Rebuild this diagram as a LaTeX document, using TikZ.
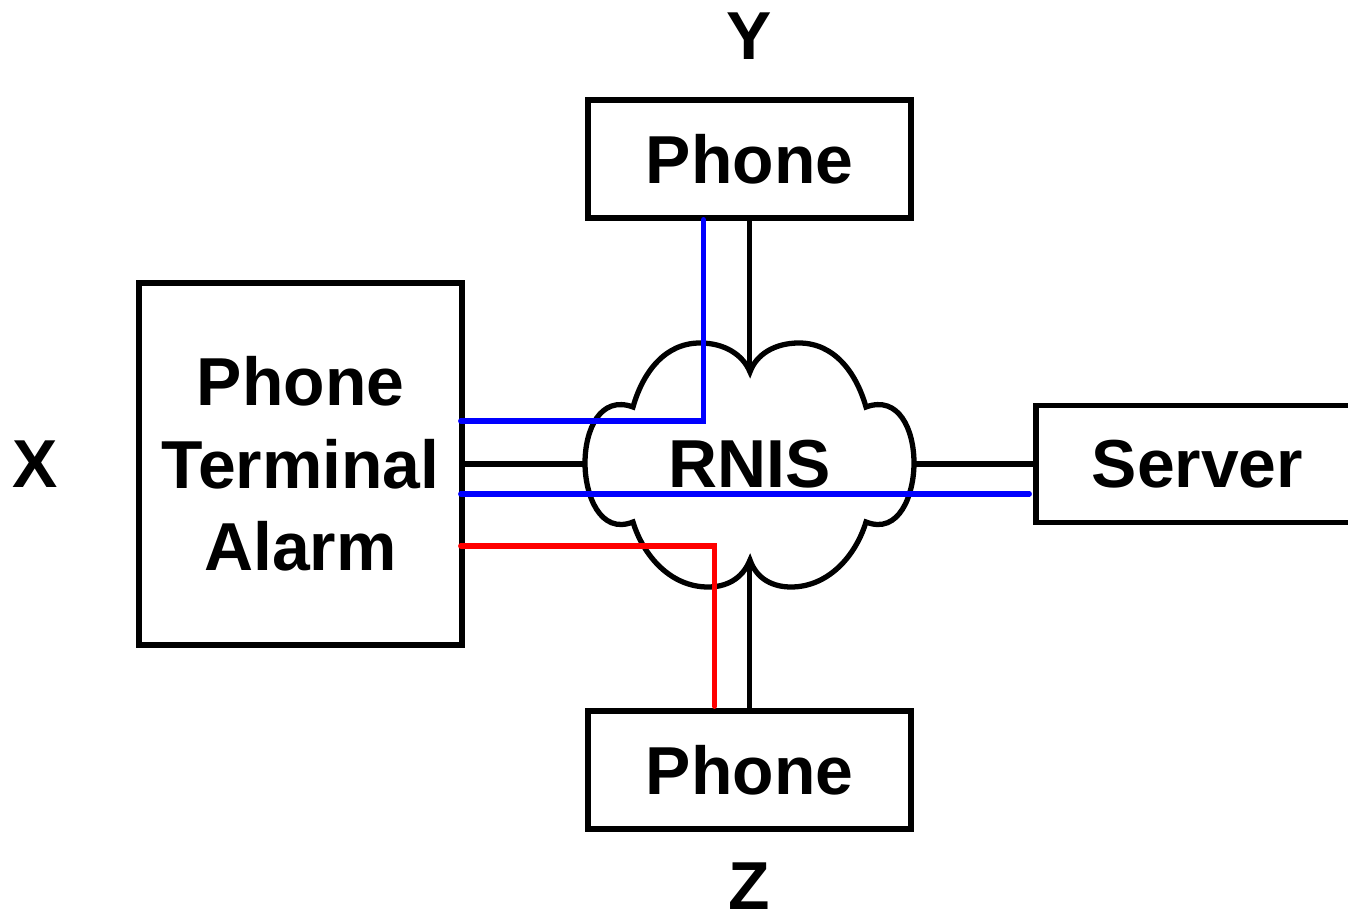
\documentclass[tikz,border=0pt]{standalone}
\usepackage{fontspec}
\setmainfont{Liberation Sans}
\usetikzlibrary{calc}

\definecolor{linkblue}{RGB}{0,0,255}
\definecolor{linkred}{RGB}{255,0,0}

\begin{document}
\begin{tikzpicture}[
  x=0.01cm, y=-0.01cm,
  box/.style={draw, line width=1.5pt, fill=white, minimum width=3.23cm, minimum height=1.18cm, inner sep=0pt},
  cloudline/.style={draw, line width=1.5pt, fill=white, line join=miter},
  endlabel/.style={inner sep=0pt},
  wire/.style={line width=1.5pt},
  bluelink/.style={line width=1.5pt, linkblue, line cap=round},
  redlink/.style={line width=1.5pt, linkred, line cap=round},
  every node/.style={font=\bfseries\fontsize{19.3}{23.5}\selectfont},
]

%% ============ PAGE ============
\useasboundingbox (0,0) rectangle (1348,916);
\clip (0,0) rectangle (1348,916);

%% ============ BOXES ============
\node[box] (phY) at (749.5,159) {Phone};
\node[box] (phZ) at (749.5,770) {Phone};
\node[box, minimum height=3.62cm, align=center] (term) at (300.5,464) {Phone\\Terminal\\Alarm};
\node[box, minimum height=1.17cm] (srv) at (1197.5,464) {Server};

% end labels
\node[endlabel] (lblY) at (749.5,36)  {Y};
\node[endlabel] (lblZ) at (749.5,886) {Z};
\node[endlabel] (lblX) at (35,464)    {X};

%% ============ RNIS CLOUD ============
\draw[cloudline] (633,407)
  .. controls (643,372) and (665,343) .. (700,343)
  .. controls (725,343) and (743,355) .. (750,372)
  .. controls (756,355) and (774,343) .. (799,343)
  .. controls (834,343) and (856,372) .. (866,407)
  .. controls (899,395) and (914,430) .. (914,463)
  .. controls (914,495) and (899,535) .. (866,522)
  .. controls (856,555) and (829,587) .. (791,587)
  .. controls (774,587) and (757,580) .. (750,560)
  .. controls (742,580) and (725,587) .. (708,587)
  .. controls (670,587) and (643,555) .. (633,522)
  .. controls (600,535) and (585,495) .. (585,463)
  .. controls (585,430) and (600,395) .. (633,407) -- cycle;
\node (rnis) at (749.5,464) {RNIS};

% cloud contact points
\coordinate (rnisN) at (749.5,372);
\coordinate (rnisS) at (749.5,560);
\coordinate (rnisW) at (585,464);
\coordinate (rnisE) at (914,464);

%% ============ NETWORK WIRES ============
\draw[wire] (phY.south) -- (rnisN);
\draw[wire] (rnisS) -- (phZ.north);
\draw[wire] (term.east) -- (rnisW);
\draw[wire] (rnisE) -- (srv.west);

%% ============ CALL PATHS ============
\draw[bluelink] ($(term.east)+(-4,-43)$) -| ($(phY.south)+(-46,-1)$);
\draw[bluelink] ($(term.east)+(-4,30)$) -- ($(srv.west)+(-4,30)$);
\draw[redlink] ($(term.east)+(-4,82)$) -| ($(phZ.north)+(-35,-2)$);

\end{tikzpicture}
\end{document}
